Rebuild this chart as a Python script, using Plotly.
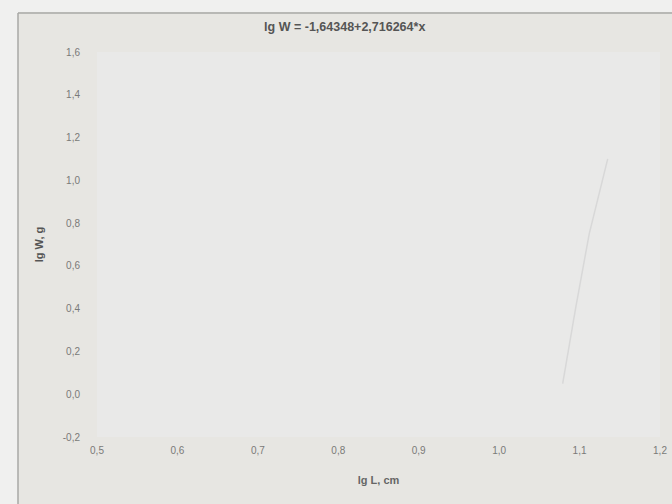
import plotly.graph_objects as go

# Data
x_ticks = [0.5, 0.6, 0.7, 0.8, 0.9, 1.0, 1.1, 1.2]
x_tick_labels = ["0,5", "0,6", "0,7", "0,8", "0,9", "1,0", "1,1", "1,2"]
y_ticks = [-0.2, 0.0, 0.2, 0.4, 0.6, 0.8, 1.0, 1.2, 1.4, 1.6]
y_tick_labels = ["-0,2", "0,0", "0,2", "0,4", "0,6", "0,8", "1,0", "1,2", "1,4", "1,6"]
# faint trace visible in the scan
trace_x = [1.079, 1.095, 1.112, 1.135]
trace_y = [0.05, 0.40, 0.75, 1.10]

title_text = "lg W = -1,64348+2,716264*x"

fig = go.Figure()
fig.add_trace(go.Scatter(x=trace_x, y=trace_y, mode="lines",
                         line=dict(color="#d8d8d8", width=1.5),
                         showlegend=False, hoverinfo="skip"))

L, R, T, B = 97, 12, 52, 67
fig.update_layout(
    width=672, height=504,
    autosize=False,
    margin=dict(l=L, r=R, t=T, b=B, autoexpand=False),
    paper_bgcolor="#e7e6e2",
    plot_bgcolor="#e9e9e8",
    font=dict(family="Liberation Sans, Arial", size=10, color="#7a7a78"),
    title=dict(text="<b>" + title_text + "</b>", x=0.513, xanchor="center",
               y=1 - 27 / 504, yanchor="middle",
               font=dict(size=12.5, color="#555555")),
    xaxis=dict(range=[0.5, 1.2], tickvals=x_ticks, ticktext=x_tick_labels,
               showgrid=False, zeroline=False, showline=False, ticks="",
               ticklabelstandoff=6,
               title=dict(text="<b>lg L, cm</b>", standoff=21,
                          font=dict(size=11, color="#666666"))),
    yaxis=dict(range=[-0.2, 1.6], tickvals=y_ticks, ticktext=y_tick_labels,
               showgrid=False, zeroline=False, showline=False, ticks="",
               ticklabelstandoff=16,
               title=dict(text="<b>lg W, g</b>", standoff=16,
                          font=dict(size=11, color="#555555"))),
)
pw, ph = 672 - L - R, 504 - T - B
fx = lambda px: (px - L) / pw
fy = lambda py: 1 - (py - T) / ph
fig.add_shape(type="rect", xref="paper", yref="paper",
              x0=fx(0), x1=fx(18), y0=fy(504), y1=fy(0),
              line=dict(width=0), fillcolor="#f0f0ef", layer="below")
fig.add_shape(type="rect", xref="paper", yref="paper",
              x0=fx(0), x1=fx(672), y0=fy(12), y1=fy(0),
              line=dict(width=0), fillcolor="#f0f0ef", layer="below")
fig.add_shape(type="line", xref="paper", yref="paper",
              x0=fx(18), x1=fx(672), y0=fy(13), y1=fy(13),
              line=dict(color="#a8a8a6", width=1.5))
fig.add_shape(type="line", xref="paper", yref="paper",
              x0=fx(18), x1=fx(18), y0=fy(504), y1=fy(13),
              line=dict(color="#a8a8a6", width=1.5))

fig.write_html("out.html", config={"displayModeBar": False},
               post_script="document.body.style.margin='0';document.body.style.overflow='hidden';")
